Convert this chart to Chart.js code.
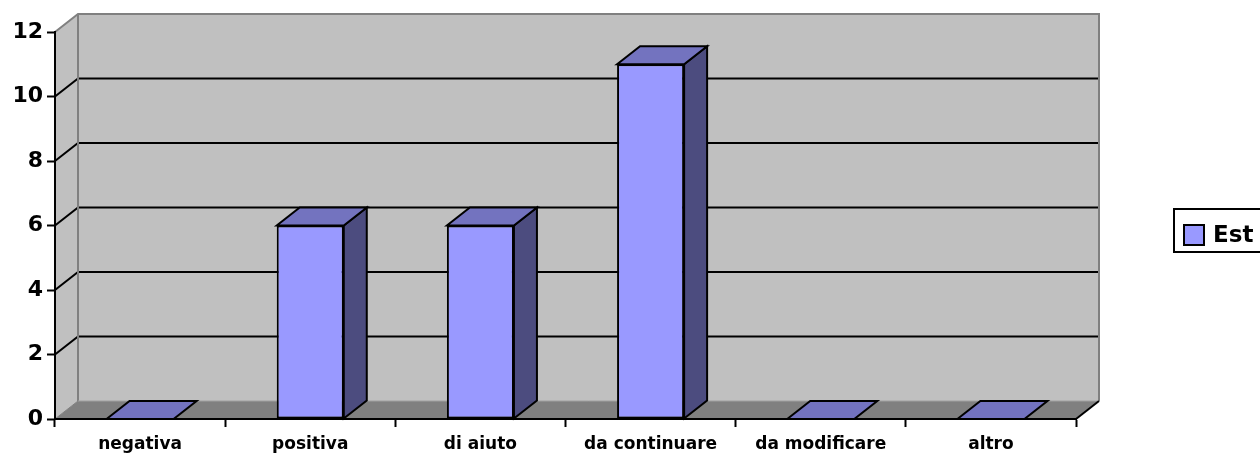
<!DOCTYPE html>
<html><head><meta charset="utf-8">
<script src="https://cdn.jsdelivr.net/npm/chart.js@4/dist/chart.umd.min.js"></script>
<style>html,body{margin:0;padding:0;background:#fff;} canvas{display:block;}</style>
</head><body>
<canvas id="c" width="1260" height="455"></canvas>
<script>
// ---- data ----
const categories = ['negativa', 'positiva', 'di aiuto', 'da continuare', 'da modificare', 'altro'];
const seriesName = 'Est';
const estValues = [0, 6, 6, 11, 0, 0];
const yMin = 0, yMax = 12, yStep = 2;

// ---- style ----
const FONT = 'DejaVu Sans';
const DX = 23, DY = -18;               // 3D depth offset
const FRONT = '#9999ff', TOP = '#7373bf', SIDE = '#4c4c7f';

function poly(ctx, pts, fill, stroke, lw) {
  ctx.beginPath();
  ctx.moveTo(pts[0][0], pts[0][1]);
  for (let i = 1; i < pts.length; i++) ctx.lineTo(pts[i][0], pts[i][1]);
  ctx.closePath();
  if (fill) { ctx.fillStyle = fill; ctx.fill(); }
  if (stroke) { ctx.strokeStyle = stroke; ctx.lineWidth = lw || 2; ctx.stroke(); }
}
function seg(ctx, pts, color, lw) {
  ctx.beginPath();
  ctx.moveTo(pts[0][0], pts[0][1]);
  for (let i = 1; i < pts.length; i++) ctx.lineTo(pts[i][0], pts[i][1]);
  ctx.strokeStyle = color; ctx.lineWidth = lw || 2; ctx.stroke();
}

const walls3d = {
  id: 'walls3d',
  beforeDraw(chart) {
    const { ctx, chartArea: a, scales: { y } } = chart;
    ctx.save();
    ctx.lineJoin = 'miter';
    // back wall
    poly(ctx, [[a.left + DX, a.top + DY], [a.right + DX, a.top + DY], [a.right + DX, a.bottom + DY], [a.left + DX, a.bottom + DY]], '#c0c0c0');
    // left side wall
    poly(ctx, [[a.left, a.top], [a.left + DX, a.top + DY], [a.left + DX, a.bottom + DY], [a.left, a.bottom]], '#c0c0c0');
    // floor
    poly(ctx, [[a.left, a.bottom], [a.left + DX, a.bottom + DY], [a.right + DX, a.bottom + DY], [a.right, a.bottom]], '#808080');
    // gridlines on side + back walls
    y.ticks.forEach(t => {
      if (t.value === yMin || t.value === yMax) return;
      const py = y.getPixelForValue(t.value);
      seg(ctx, [[a.left, py], [a.left + DX, py + DY], [a.right + DX, py + DY]], '#000', 2);
    });
    // gray edges
    seg(ctx, [[a.left, a.top], [a.left + DX, a.top + DY], [a.right + DX, a.top + DY], [a.right + DX, a.bottom + DY]], '#808080', 2);
    seg(ctx, [[a.left + DX, a.top + DY], [a.left + DX, a.bottom + DY]], '#808080', 2);
    seg(ctx, [[a.left + DX, a.bottom + DY], [a.right + DX, a.bottom + DY]], '#a0a0a0', 1);
    seg(ctx, [[a.left, a.bottom], [a.left + DX, a.bottom + DY]], '#808080', 1);
    seg(ctx, [[a.right, a.bottom], [a.right + DX, a.bottom + DY]], '#000', 2);
    ctx.restore();
  },
  afterDatasetsDraw(chart) {
    const { ctx } = chart;
    ctx.save();
    ctx.lineJoin = 'miter';
    chart.getDatasetMeta(0).data.forEach(bar => {
      const p = bar.getProps(['x', 'y', 'base', 'width'], true);
      const x0 = p.x - p.width / 2, x1 = p.x + p.width / 2;
      if (p.base - p.y > 0.5) {
        poly(ctx, [[x1, p.y], [x1 + DX, p.y + DY], [x1 + DX, p.base + DY], [x1, p.base]], SIDE, '#000', 2);
      }
      poly(ctx, [[x0, p.y], [x0 + DX, p.y + DY], [x1 + DX, p.y + DY], [x1, p.y]], TOP, '#000', 2);
    });
    ctx.restore();
  },
  afterDraw(chart) {
    const { ctx } = chart;
    const W = chart.width;
    ctx.save();
    // legend box (clipped at right edge like the reference)
    ctx.strokeStyle = '#000'; ctx.lineWidth = 2;
    ctx.strokeRect(W - 86, 209, 120, 43);
    ctx.fillStyle = FRONT;
    ctx.fillRect(W - 76, 225, 20, 20);
    ctx.strokeRect(W - 76, 225, 20, 20);
    ctx.fillStyle = '#000';
    ctx.font = 'bold 23px "' + FONT + '"';
    ctx.textBaseline = 'alphabetic';
    ctx.textAlign = 'left';
    ctx.fillText(seriesName, W - 47, 242);
    ctx.restore();
  }
};

Chart.defaults.font.family = FONT;

new Chart(document.getElementById('c'), {
  type: 'bar',
  data: {
    labels: categories,
    datasets: [{
      label: seriesName,
      data: estValues,
      backgroundColor: FRONT,
      borderColor: '#000',
      borderWidth: 2,
      borderSkipped: false,
      barPercentage: 0.394,
      categoryPercentage: 1.0
    }]
  },
  options: {
    responsive: false,
    animation: false,
    layout: { padding: { top: 32, right: 184, left: 0, bottom: 0 } },
    plugins: { legend: { display: false }, tooltip: { enabled: false } },
    scales: {
      x: {
        offset: true,
        grid: { offset: true, drawOnChartArea: false, drawTicks: true, tickLength: 8, tickWidth: 2, tickColor: '#000' },
        border: { display: true, color: '#000', width: 2 },
        ticks: { color: '#000', font: { family: FONT, size: 17, weight: 'bold' }, padding: 7, maxRotation: 0, autoSkip: false },
        afterFit(s) { s.height = 36; }
      },
      y: {
        min: yMin, max: yMax,
        grid: { drawOnChartArea: false, drawTicks: true, tickLength: 8, tickWidth: 2, tickColor: '#000' },
        border: { display: true, color: '#000', width: 2 },
        ticks: { stepSize: yStep, color: '#000', font: { family: FONT, size: 22, weight: 'bold' }, padding: 4 },
        afterFit(s) { s.width = 55; }
      }
    }
  },
  plugins: [walls3d]
});
</script>
</body></html>
